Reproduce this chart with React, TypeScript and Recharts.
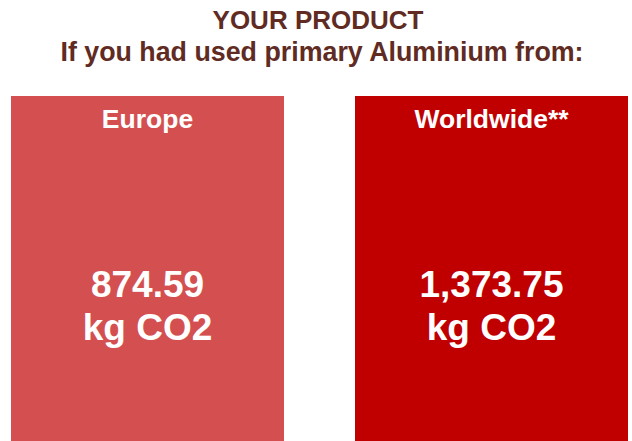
import { BarChart, Bar, XAxis, YAxis, Cell, Rectangle } from 'recharts'

// one block per source region; both blocks are drawn full height
const regions = ['Europe', 'Worldwide**']
const emissions = [874.59, 1373.75]
const blockFill = [1, 1]
const unit = 'kg CO2'

const title = 'YOUR PRODUCT'
const subtitle = 'If you had used primary Aluminium from:'

const COLORS = ['#D45050', '#C00000']
const FONT = '"Liberation Sans", Arial, Helvetica, sans-serif'

const data = regions.map((region, i) => ({
    region,
    co2: emissions[i],
    fill: blockFill[i],
}))

const fmt = (v: number) =>
    v.toLocaleString('en-US', { minimumFractionDigits: 2, maximumFractionDigits: 2 })

const BlockShape = (props: any) => {
    const { x, y, width, height, payload, index } = props
    const cx = x + width / 2
    return (
        <g>
            <Rectangle x={x} y={y} width={width} height={height} fill={COLORS[index % COLORS.length]} />
            <text x={cx} y={y + 32} textAnchor="middle" fill="#fff" fontFamily={FONT} fontWeight={700} fontSize={26.5}>
                {payload.region}
            </text>
            <text x={cx} y={y + 201} textAnchor="middle" fill="#fff" fontFamily={FONT} fontWeight={700} fontSize={37}>
                {fmt(payload.co2)}
            </text>
            <text x={cx} y={y + 244} textAnchor="middle" fill="#fff" fontFamily={FONT} fontWeight={700} fontSize={37}>
                {unit}
            </text>
        </g>
    )
}

export default function App() {
    return (
        <div style={{ position: 'absolute', left: 0, top: 0, width: 632, height: 441, overflow: 'hidden', background: '#fff' }}>
            <svg width={632} height={90} style={{ position: 'absolute', left: 0, top: 0 }}>
                <text x={318} y={29} textAnchor="middle" fill="#5F2B22" fontFamily={FONT} fontWeight={700} fontSize={26}>
                    {title}
                </text>
                <text x={322} y={61} textAnchor="middle" fill="#5F2B22" fontFamily={FONT} fontWeight={700} fontSize={26.8}>
                    {subtitle}
                </text>
            </svg>
            <div style={{ position: 'absolute', left: -25, top: 0 }}>
                <BarChart width={688} height={441} data={data} margin={{ top: 96, right: 0, bottom: 0, left: 0 }}
                    barCategoryGap={0}>
                    <XAxis dataKey="region" hide />
                    <YAxis hide domain={[0, 1]} />
                    <Bar dataKey="fill" barSize={273} isAnimationActive={false} shape={<BlockShape />}>
                        {data.map((_, i) => <Cell key={i} fill={COLORS[i]} />)}
                    </Bar>
                </BarChart>
            </div>
        </div>
    )
}
